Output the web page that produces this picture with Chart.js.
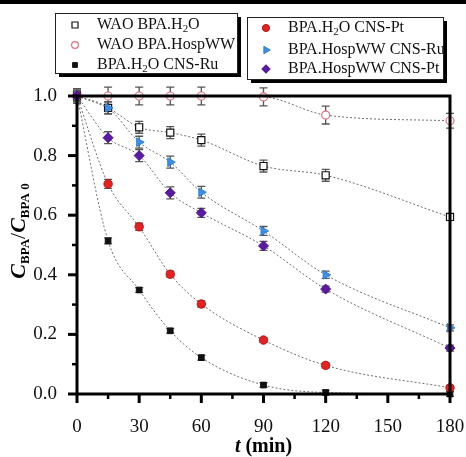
<!DOCTYPE html>
<html>
<head>
<meta charset="utf-8">
<script src="https://cdn.jsdelivr.net/npm/chart.js@4"></script>
<style>
  html, body { margin: 0; padding: 0; background: #fff; }
</style>
</head>
<body>
<canvas id="bpaChart" width="466" height="457"></canvas>
<script>
// sampling times (min) and C/C0 values
var times = [0, 15, 30, 45, 60, 90, 120, 180];
var names = ["WAO BPA.H_2O", "WAO BPA.HospWW", "BPA.H_2O CNS-Ru", "BPA.H_2O CNS-Pt", "BPA.HospWW CNS-Ru", "BPA.HospWW CNS-Pt"];

var waoH2O = [1.0, 0.96, 0.895, 0.877, 0.852, 0.765, 0.734, 0.594];
var waoHosp = [1.0, 1.0, 1.0, 1.0, 1.0, 0.997, 0.936, 0.917];
var h2oRu = [1.0, 0.514, 0.349, 0.212, 0.122, 0.03, 0.005, 0.0];
var h2oPt = [1.0, 0.705, 0.561, 0.402, 0.302, 0.181, 0.096, 0.021];
var hospRu = [1.0, 0.96, 0.845, 0.778, 0.677, 0.547, 0.40, 0.222];
var hospPt = [1.0, 0.86, 0.80, 0.675, 0.608, 0.497, 0.352, 0.154];

// error bar half-heights
var errWaoH2O = [0.02, 0.02, 0.02, 0.02, 0.02, 0.02, 0.02, 0.01];
var errWaoHosp = [0.025, 0.03, 0.03, 0.03, 0.03, 0.03, 0.03, 0.025];
var errH2oRu = [0.01, 0.01, 0.008, 0.008, 0.008, 0.008, 0.008, 0.008];
var errH2oPt = [0.01, 0.015, 0.012, 0.01, 0.01, 0.008, 0.008, 0.008];
var errHospRu = [0.015, 0.02, 0.02, 0.02, 0.02, 0.015, 0.012, 0.01];
var errHospPt = [0.02, 0.02, 0.02, 0.02, 0.015, 0.015, 0.01, 0.01];

var serif = "'Liberation Serif', 'Times New Roman', serif";

function pts(vals) {
  return times.map(function (t, i) { return { x: t, y: vals[i] }; });
}

function series(i, vals, errs, style) {
  return {
    label: names[i],
    data: pts(vals),
    errors: errs,
    order: 5 - i, // later series sit on top, as in the original
    showLine: true,
    borderColor: "#6e6e6e",
    borderWidth: 1,
    borderDash: [2, 2],
    cubicInterpolationMode: "monotone",
    clip: false,
    pointStyle: style.shape,
    rotation: style.rotation || 0,
    pointRadius: style.r,
    pointBackgroundColor: style.fill,
    pointBorderColor: style.stroke,
    pointBorderWidth: style.bw
  };
}

var styles = [
  { shape: "rect", r: 5, fill: "#ffffff", stroke: "#111111", bw: 1.2 },
  { shape: "circle", r: 4, fill: "#ffffff", stroke: "#e07080", bw: 1.2 },
  { shape: "rect", r: 4, fill: "#111111", stroke: "#111111", bw: 1 },
  { shape: "circle", r: 4.2, fill: "#e52222", stroke: "#b81414", bw: 1 },
  { shape: "triangle", rotation: 90, r: 5, fill: "#3d8fe6", stroke: "#2f7fd6", bw: 1 },
  { shape: "rectRot", r: 5, fill: "#5a1aa2", stroke: "#4a1090", bw: 1 }
];

// draws text where "_x" means subscript x
function richText(ctx, str, x, y, size) {
  var parts = str.split("_");
  ctx.textBaseline = "middle";
  ctx.textAlign = "left";
  for (var i = 0; i < parts.length; i++) {
    var p = parts[i];
    if (i > 0) {
      ctx.font = (size * 0.68) + "px " + serif;
      ctx.fillText(p[0], x, y + 4);
      x += ctx.measureText(p[0]).width;
      p = p.slice(1);
    }
    ctx.font = size + "px " + serif;
    ctx.fillText(p, x, y);
    x += ctx.measureText(p).width;
  }
}

var decor = {
  id: "decor",
  beforeDatasetsDraw: function (chart) {
    var ctx = chart.ctx, xs = chart.scales.x, ys = chart.scales.y;
    ctx.save();
    ctx.strokeStyle = "#555";
    ctx.lineWidth = 1.3;
    chart.data.datasets.forEach(function (ds) {
      ds.data.forEach(function (p, i) {
        var e = ds.errors[i];
        var px = xs.getPixelForValue(p.x);
        var top = ys.getPixelForValue(p.y + e), bot = ys.getPixelForValue(p.y - e);
        if (bot - top < 4) return;
        ctx.beginPath();
        ctx.moveTo(px, top); ctx.lineTo(px, bot);
        ctx.moveTo(px - 4, top); ctx.lineTo(px + 4, top);
        ctx.moveTo(px - 4, bot); ctx.lineTo(px + 4, bot);
        ctx.stroke();
      });
    });
    ctx.restore();
  },
  afterDraw: function (chart) {
    var ctx = chart.ctx, a = chart.chartArea, xs = chart.scales.x, ys = chart.scales.y;
    ctx.save();
    // frame
    ctx.strokeStyle = "#000";
    ctx.lineWidth = 3;
    ctx.strokeRect(a.left, a.top, a.right - a.left, a.bottom - a.top);
    // ticks, major labelled ones longer
    xs.ticks.forEach(function (t) {
      var px = xs.getPixelForValue(t.value);
      var major = t.value % 30 === 0;
      ctx.lineWidth = major ? 3 : 2.5;
      ctx.beginPath();
      ctx.moveTo(px, a.bottom);
      ctx.lineTo(px, a.bottom + (major ? 9 : 5));
      ctx.stroke();
    });
    ys.ticks.forEach(function (t) {
      var py = ys.getPixelForValue(t.value);
      var major = Math.round(t.value * 10) % 2 === 0;
      ctx.lineWidth = major ? 3 : 2.5;
      ctx.beginPath();
      ctx.moveTo(a.left, py);
      ctx.lineTo(a.left - (major ? 9 : 5), py);
      ctx.stroke();
    });
    // top rule of the figure
    ctx.fillStyle = "#000";
    ctx.fillRect(0, 0, chart.width, 4);

    // x title
    ctx.fillStyle = "#000";
    ctx.textBaseline = "alphabetic";
    ctx.textAlign = "left";
    ctx.font = "italic bold 20px " + serif;
    var w1 = ctx.measureText("t").width;
    ctx.font = "bold 20px " + serif;
    var w2 = ctx.measureText(" (min)").width;
    var cx = (a.left + a.right) / 2 - (w1 + w2) / 2;
    ctx.font = "italic bold 20px " + serif;
    ctx.fillText("t", cx, 452);
    ctx.font = "bold 20px " + serif;
    ctx.fillText(" (min)", cx + w1, 452);

    // y title
    var parts = [
      { t: "C", f: "italic bold 22px " + serif, dy: 0 },
      { t: "BPA", f: "bold 13px " + serif, dy: 4 },
      { t: "/", f: "22px " + serif, dy: 0 },
      { t: "C", f: "italic bold 22px " + serif, dy: 0 },
      { t: "BPA 0", f: "bold 13px " + serif, dy: 4 }
    ];
    var total = 0;
    parts.forEach(function (p) { ctx.font = p.f; p.w = ctx.measureText(p.t).width; total += p.w; });
    ctx.translate(25, 231);
    ctx.rotate(-Math.PI / 2);
    var px = -total / 2;
    parts.forEach(function (p) { ctx.font = p.f; ctx.fillText(p.t, px, p.dy); px += p.w; });
    ctx.setTransform(1, 0, 0, 1, 0, 0);

    // legend boxes with drop shadows
    var boxes = [
      { x: 55, y: 13, w: 182, h: 60, items: [0, 1, 2], rows: [25, 45, 65], mx: 75, tx: 97 },
      { x: 247, y: 17, w: 196, h: 62, items: [3, 4, 5], rows: [28, 50, 69], mx: 266, tx: 288 }
    ];
    boxes.forEach(function (b) {
      ctx.fillStyle = "#000";
      ctx.fillRect(b.x + 4, b.y + 4, b.w, b.h);
      ctx.fillStyle = "#fff";
      ctx.fillRect(b.x, b.y, b.w, b.h);
      ctx.lineWidth = 1;
      ctx.strokeStyle = "#222";
      ctx.strokeRect(b.x + 0.5, b.y + 0.5, b.w, b.h);
      b.items.forEach(function (k, j) {
        var s = styles[k];
        ctx.fillStyle = s.fill;
        ctx.strokeStyle = s.stroke;
        ctx.lineWidth = s.bw;
        Chart.helpers.drawPoint(ctx, { pointStyle: s.shape, radius: s.r * 0.85, rotation: s.rotation || 0, borderWidth: s.bw }, b.mx, b.rows[j]);
        ctx.fillStyle = "#111";
        richText(ctx, names[k], b.tx, b.rows[j], 16);
      });
    });
    ctx.restore();
  }
};

var ctx = document.getElementById("bpaChart").getContext("2d");
var chart = new Chart(ctx, {
  type: "scatter",
  data: {
    datasets: [
      series(0, waoH2O, errWaoH2O, styles[0]),
      series(1, waoHosp, errWaoHosp, styles[1]),
      series(2, h2oRu, errH2oRu, styles[2]),
      series(3, h2oPt, errH2oPt, styles[3]),
      series(4, hospRu, errHospRu, styles[4]),
      series(5, hospPt, errHospPt, styles[5])
    ]
  },
  options: {
    responsive: false,
    animation: false,
    devicePixelRatio: 1,
    layout: { padding: { top: 96, right: 16, left: 0, bottom: 0 } },
    plugins: {
      legend: { display: false },
      tooltip: { enabled: false }
    },
    scales: {
      x: {
        type: "linear",
        min: 0,
        max: 180,
        grid: { display: false },
        border: { display: false },
        ticks: {
          stepSize: 15,
          padding: 14,
          color: "#111",
          font: { family: serif, size: 19 },
          maxRotation: 0,
          autoSkip: false,
          callback: function (v) { return v % 30 === 0 ? String(v) : ""; }
        },
        afterFit: function (s) { s.height = 63; s.paddingLeft = 0; s.paddingRight = 0; }
      },
      y: {
        min: 0,
        max: 1.0,
        grid: { display: false },
        border: { display: false },
        ticks: {
          stepSize: 0.1,
          padding: 12,
          color: "#111",
          font: { family: serif, size: 19 },
          autoSkip: false,
          callback: function (v) { return Math.round(v * 10) % 2 === 0 ? v.toFixed(1) : ""; }
        },
        afterFit: function (s) { s.width = 77; s.paddingTop = 0; s.paddingBottom = 0; }
      }
    }
  },
  plugins: [decor]
});
</script>
</body>
</html>
